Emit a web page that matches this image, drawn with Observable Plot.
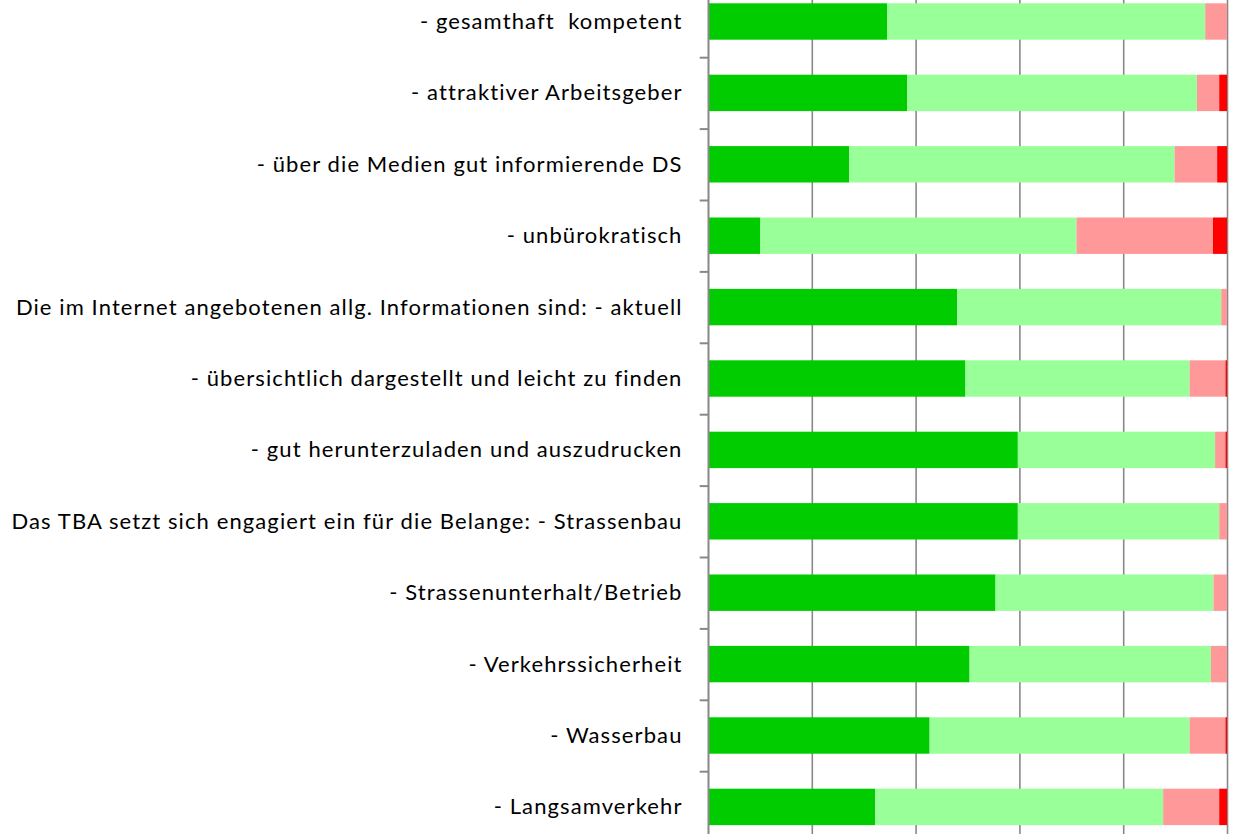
<!DOCTYPE html>
<html>
<head>
<meta charset="utf-8">
<script src="https://cdn.jsdelivr.net/npm/d3@7"></script>
<script src="https://cdn.jsdelivr.net/npm/@observablehq/plot@0.6"></script>
<style>
  html, body { margin: 0; padding: 0; background: #fff; }
  #chart svg { display: block; }
  #chart svg text { letter-spacing: 1.1px; }
</style>
</head>
<body>
<div id="chart"></div>
<script>
const categories = [
  "- gesamthaft  kompetent",
  "- attraktiver Arbeitsgeber",
  "- über die Medien gut informierende DS",
  "- unbürokratisch",
  "Die im Internet angebotenen allg. Informationen sind: - aktuell",
  "- übersichtlich dargestellt und leicht zu finden",
  "- gut herunterzuladen und auszudrucken",
  "Das TBA setzt sich engagiert ein für die Belange: - Strassenbau",
  "- Strassenunterhalt/Betrieb",
  "- Verkehrssicherheit",
  "- Wasserbau",
  "- Langsamverkehr"
];
const seriesNames = ["trifft voll zu", "trifft eher zu", "trifft eher nicht zu", "trifft nicht zu"];
const seriesColors = ["#00cc00", "#99ff99", "#ff9999", "#ff0000"];
// percentages per category, in series order
const vollZu      = [34.5, 38.4, 27.2, 10.1, 48.0, 49.6, 59.7, 59.7, 55.4, 50.4, 42.7, 32.2];
const eherZu      = [61.3, 55.8, 62.7, 60.9, 50.9, 43.2, 38.0, 38.8, 42.0, 46.5, 50.1, 55.5];
const eherNichtZu = [ 4.2,  4.3,  8.2, 26.3,  1.1,  6.9,  2.0,  1.5,  2.6,  3.1,  6.9, 10.8];
const nichtZu     = [ 0.0,  1.5,  1.9,  2.7,  0.0,  0.3,  0.3,  0.0,  0.0,  0.0,  0.3,  1.5];
const gridTicks = [20, 40, 60, 80, 100];

const seriesValues = [vollZu, eherZu, eherNichtZu, nichtZu];
const data = [];
categories.forEach((c, i) => {
  seriesNames.forEach((s, j) => data.push({cat: c, series: s, value: seriesValues[j][i]}));
});

const yRange = [-14.2, 842.6];
const step = (yRange[1] - yRange[0]) / categories.length;

const chart = Plot.plot({
  width: 1235,
  height: 834,
  marginLeft: 708,
  marginRight: 8,
  marginTop: 0,
  marginBottom: 0,
  style: {fontFamily: "Lato, 'DejaVu Sans', sans-serif", background: "#fff", color: "#000"},
  x: {domain: [0, 100], axis: null},
  y: {domain: categories, range: yRange, paddingInner: 0.49, paddingOuter: 0.245, round: false, axis: null},
  color: {domain: seriesNames, range: seriesColors},
  marks: [
    Plot.ruleX(gridTicks, {stroke: "#888888", strokeWidth: 1.6}),
    Plot.barX(data, {x: "value", y: "cat", fill: "series", order: seriesNames}),
    Plot.ruleX([0], {stroke: "#888888", strokeWidth: 2}),
    Plot.ruleY(categories, {y: d => d, x1: -1.6, x2: 0, dy: -step / 2, stroke: "#888888", strokeWidth: 2, clip: false}),
    Plot.axisY({tickSize: 0, tickPadding: 26, fontSize: 22, label: null, fill: "#000"})
  ]
});
document.getElementById("chart").appendChild(chart);
</script>
</body>
</html>
